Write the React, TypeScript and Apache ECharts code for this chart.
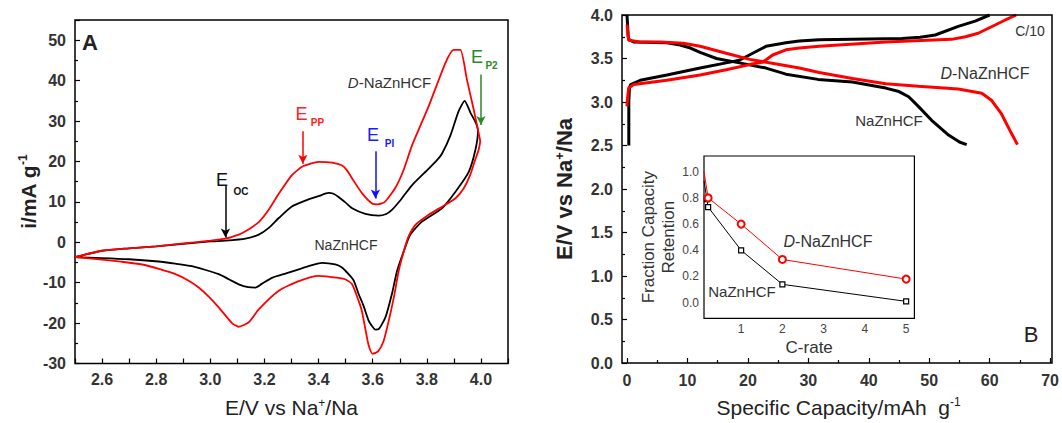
import React, { useEffect, useRef } from "react";
import * as echarts from "echarts";

const FONT = 'Arial, "Liberation Sans", Helvetica, sans-serif';

// ---- Panel A: cyclic voltammetry (E / V, i / mA g-1) ----
const cvDNaZnHCF: [number, number][] = [
  [2.5, -3.7], [2.6, -2.1], [2.7, -1.5], [2.8, -1.0], [2.9, -0.3], [3.0, 0.4], [3.056, 0.9],
  [3.105, 1.9], [3.13, 2.7], [3.179, 5.0], [3.215, 8.0], [3.253, 12.0], [3.3, 16.5], [3.342, 18.8],
  [3.4, 19.9], [3.45, 19.7], [3.487, 19.0], [3.505, 17.8], [3.524, 15.8], [3.561, 12.1], [3.598, 9.6],
  [3.62, 9.4], [3.645, 10.0], [3.684, 13.5], [3.715, 18.0], [3.745, 23.9], [3.807, 33.7], [3.869, 44.4],
  [3.899, 47.6], [3.924, 47.6], [3.948, 40.3], [3.973, 32.9], [3.991, 27.2], [3.997, 25.0],
  [3.99, 22.5], [3.98, 20.7], [3.96, 16.6], [3.936, 13.3], [3.906, 10.9], [3.856, 8.8], [3.807, 6.8],
  [3.758, 4.3], [3.733, 1.5], [3.715, -2.2], [3.696, -7.1], [3.678, -13.7], [3.659, -19.5], [3.64, -24.5],
  [3.62, -27.0], [3.6, -27.6], [3.585, -25.5], [3.573, -21.5], [3.56, -17.0], [3.548, -14.5], [3.524, -10.4],
  [3.5, -9.2], [3.474, -8.8], [3.4, -8.3], [3.327, -9.6], [3.253, -12.0], [3.179, -16.6], [3.142, -19.8],
  [3.105, -20.9], [3.08, -20.0], [3.031, -16.1], [2.995, -13.5], [2.957, -11.2], [2.92, -9.5], [2.871, -7.9],
  [2.81, -6.6], [2.748, -5.5], [2.67, -4.8], [2.6, -4.3], [2.5, -3.7],
];

const cvNaZnHCF: [number, number][] = [
  [2.5, -3.7], [2.6, -2.1], [2.7, -1.5], [2.8, -1.0], [2.9, -0.4], [3.0, 0.2], [3.056, 0.4], [3.13, 0.9],
  [3.179, 1.9], [3.215, 3.5], [3.253, 6.0], [3.3, 8.8], [3.351, 10.3], [3.4, 11.4], [3.437, 12.2],
  [3.455, 12.0], [3.474, 11.2], [3.5, 9.8], [3.524, 8.4], [3.573, 7.0], [3.622, 6.6], [3.65, 7.0],
  [3.671, 8.0], [3.7, 10.2], [3.745, 14.1], [3.807, 18.2], [3.84, 20.5], [3.856, 21.9], [3.887, 26.4],
  [3.918, 32.5], [3.94, 35.0], [3.961, 32.1], [3.98, 29.7], [3.989, 27.6],
  [3.98, 23.0], [3.955, 17.4], [3.906, 12.5], [3.856, 8.4], [3.782, 5.1], [3.739, 1.9], [3.715, -2.2],
  [3.69, -7.1], [3.671, -12.8], [3.647, -18.6], [3.622, -21.5], [3.61, -21.6], [3.595, -20.5],
  [3.585, -19.4], [3.565, -15.5], [3.548, -12.8], [3.53, -9.5], [3.511, -7.9], [3.485, -6.2],
  [3.462, -5.5], [3.413, -5.1], [3.37, -5.8], [3.327, -6.7], [3.28, -7.7], [3.228, -8.8], [3.19, -10.3],
  [3.167, -11.2], [3.14, -11.1], [3.105, -10.4], [3.07, -9.2], [3.031, -7.9], [2.98, -6.8], [2.932, -5.9],
  [2.87, -5.3], [2.797, -4.7], [2.7, -4.2], [2.6, -3.9], [2.5, -3.7],
];

// arrows: [x, yStart, yEnd]
const arrowEPP: [number, number, number] = [3.342, 27.5, 19.4];
const arrowEPI: [number, number, number] = [3.61, 22.5, 10.8];
const arrowEOC: [number, number, number] = [3.056, 14.0, 1.2];
const arrowEP2: [number, number, number] = [4.0, 41.5, 29.0];

// ---- Panel B: charge / discharge (capacity mAh g-1, E / V) ----
const naDischarge: [number, number][] = [
  [0, 4.0], [0.2, 3.75], [0.3, 3.72], [1.1, 3.69], [6.6, 3.68], [8.8, 3.655], [10.5, 3.62], [12.1, 3.57],
  [14.8, 3.5], [18.6, 3.45], [23.0, 3.39], [26.3, 3.32], [31.6, 3.26], [37.3, 3.23], [42.8, 3.16],
  [45.0, 3.12], [46.6, 3.06], [48.2, 2.95], [50.4, 2.79], [53.2, 2.62], [55.0, 2.54], [56.2, 2.51],
];
const naCharge: [number, number][] = [
  [0.3, 2.5], [0.3, 3.0], [0.4, 3.16], [0.6, 3.2], [2.2, 3.25], [6.6, 3.31], [12.1, 3.39], [16.4, 3.45],
  [18.6, 3.48], [20.8, 3.56], [23.0, 3.64], [26.3, 3.68], [28.5, 3.7], [31.8, 3.715], [45.5, 3.73],
  [48.5, 3.745], [51.0, 3.77], [54.8, 3.87], [57.6, 3.93], [60.0, 4.0],
];
const dCharge: [number, number][] = [
  [0.0, 2.95], [0.1, 3.05], [0.27, 3.16], [1.1, 3.2], [6.6, 3.25], [12.1, 3.31], [16.4, 3.37], [20.3, 3.43],
  [22.5, 3.46], [24.1, 3.54], [26.3, 3.6], [28.5, 3.62], [31.8, 3.64], [42.8, 3.69], [53.7, 3.72],
  [56.0, 3.75], [58.1, 3.79], [60.9, 3.885], [62.5, 3.94], [64.4, 4.0],
];
const dDischarge: [number, number][] = [
  [0, 3.89], [0.27, 3.71], [2.2, 3.69], [5.5, 3.69], [9.3, 3.675], [12.1, 3.64], [16.4, 3.56], [20.3, 3.49],
  [25.2, 3.43], [28.5, 3.39], [31.8, 3.34], [37.3, 3.27], [42.8, 3.21], [48.2, 3.18], [54.8, 3.15],
  [58.7, 3.1], [60.3, 3.02], [61.9, 2.87], [63.6, 2.64], [64.6, 2.51],
];

// ---- Inset: rate capability ----
const insetD: [number, number][] = [[0.1, 1.0], [0.2, 0.8], [1, 0.6], [2, 0.33], [5, 0.18]];
const insetNa: [number, number][] = [[0.1, 0.93], [0.17, 0.79], [0.2, 0.73], [1, 0.4], [2, 0.14], [5, 0.01]];

const tickLabel = { fontFamily: FONT, fontWeight: "bold" as const, fontSize: 16, color: "#333" };

function arrowItem(a: [number, number, number], color: string) {
  return [
    { coord: [a[0], a[1]], lineStyle: { color, width: 1.5, type: "solid" }, itemStyle: { color } },
    { coord: [a[0], a[2]] },
  ];
}

function txt(x: number, y: number, text: string, size: number, color = "#333", weight = "normal", rich?: any) {
  return {
    type: "text",
    x,
    y,
    silent: true,
    style: {
      text,
      fill: color,
      fontFamily: FONT,
      fontSize: size,
      fontWeight: weight,
      align: "center",
      verticalAlign: "middle",
      rich,
    },
  };
}

const italicRich = (size: number) => ({
  i: { fontStyle: "italic", fontFamily: FONT, fontSize: size, fill: "#333", color: "#333" },
  n: { fontFamily: FONT, fontSize: size, fill: "#333", color: "#333" },
});

const supRich = (size: number, bold: boolean) => ({
  sup: { fontFamily: FONT, fontSize: size, fontWeight: bold ? "bold" : "normal", color: "#222", padding: [0, 0, 10, 0] },
});

export default function App() {
  const ref = useRef<HTMLDivElement>(null);

  useEffect(() => {
    if (!ref.current) return;
    const chart = echarts.init(ref.current, undefined, { renderer: "svg" });

    const option: any = {
      animation: false,
      backgroundColor: "#fff",
      grid: [
        { left: 75, top: 20, width: 433, height: 346.7, show: true, borderColor: "#000", borderWidth: 1.5, backgroundColor: "transparent" },
        { left: 627, top: 15, width: 425, height: 348 },
        { left: 704, top: 156, width: 210.4, height: 162.4, show: true, borderColor: "#000", borderWidth: 1.2, backgroundColor: "#fff" },
      ],
      xAxis: [
        {
          gridIndex: 0, type: "value", min: 2.5, max: 4.1, interval: 0.1,
          axisLine: { show: false, onZero: false },
          axisTick: { inside: true, length: 5, lineStyle: { color: "#000", width: 1.2 } },
          splitLine: { show: false },
          axisLabel: {
            ...tickLabel, margin: 8,
            formatter: (v: number) => {
              const k = Math.round(v * 10);
              return k % 2 === 0 && k >= 26 && k <= 40 ? (k / 10).toFixed(1) : "";
            },
          },
          name: "E/V vs Na{sup|+}/Na", nameLocation: "middle", nameGap: 33,
          nameTextStyle: { fontFamily: FONT, fontSize: 21, color: "#222", rich: supRich(12, false) },
        },
        {
          gridIndex: 1, type: "value", min: 0, max: 70, interval: 10,
          axisLine: { show: false, onZero: false },
          axisTick: { inside: true, length: 5, lineStyle: { color: "#000", width: 1.2 } },
          minorTick: { show: true, splitNumber: 2, length: 3, lineStyle: { color: "#000", width: 1.2 } },
          splitLine: { show: false },
          axisLabel: { ...tickLabel, margin: 9 },
          name: "Specific Capacity/mAh  g{sup|-1}", nameLocation: "middle", nameGap: 33,
          nameTextStyle: { fontFamily: FONT, fontSize: 21, color: "#222", rich: supRich(12, false) },
        },
        {
          gridIndex: 2, type: "value", min: 0.1, max: 5.2, interval: 0.1,
          axisLine: { show: false, onZero: false },
          axisTick: { show: false },
          splitLine: { show: false },
          axisLabel: {
            fontFamily: FONT, fontSize: 12, color: "#444", margin: 5,
            formatter: (v: number) => {
              const r = Math.round(v);
              return Math.abs(v - r) < 1e-6 && r >= 1 ? String(r) : "";
            },
          },
          name: "C-rate", nameLocation: "middle", nameGap: 21,
          nameTextStyle: { fontFamily: FONT, fontSize: 17, color: "#333" },
        },
      ],
      yAxis: [
        {
          gridIndex: 0, type: "value", min: -30, max: 55, interval: 10,
          axisLine: { show: false, onZero: false },
          axisTick: { inside: true, length: 5, lineStyle: { color: "#000", width: 1.2 } },
          minorTick: { show: true, splitNumber: 2, length: 3, lineStyle: { color: "#000", width: 1.2 } },
          splitLine: { show: false },
          axisLabel: { ...tickLabel, margin: 9, formatter: (v: number) => (Math.round(v) % 10 === 0 ? String(Math.round(v)) : "") },
          name: "i/mA g{sup|-1}", nameLocation: "middle", nameGap: 36,
          nameTextStyle: { fontFamily: FONT, fontSize: 21, fontWeight: "bold", color: "#222", rich: supRich(12, true) },
        },
        {
          gridIndex: 1, type: "value", min: 0, max: 4, interval: 0.5, offset: 5,
          axisLine: { show: false, onZero: false },
          axisTick: { inside: true, length: 5, lineStyle: { color: "#000", width: 1.2 } },
          minorTick: { show: true, splitNumber: 2, length: 3, lineStyle: { color: "#000", width: 1.2 } },
          splitLine: { show: false },
          axisLabel: { ...tickLabel, margin: 9, formatter: (v: number) => v.toFixed(1) },
          name: "E/V vs Na{sup|+}/Na", nameLocation: "middle", nameGap: 46,
          nameTextStyle: { fontFamily: FONT, fontSize: 22, fontWeight: "bold", color: "#222", rich: supRich(13, true) },
        },
        {
          gridIndex: 2, type: "value", min: -0.12, max: 1.12, interval: 0.04,
          axisLine: { show: false, onZero: false },
          axisTick: { show: false },
          splitLine: { show: false },
          axisLabel: {
            fontFamily: FONT, fontSize: 12, color: "#444", margin: 5,
            formatter: (v: number) => {
              const k = Math.round(v * 5);
              return Math.abs(v * 5 - k) < 1e-6 && k >= 0 && k <= 5 ? (k / 5).toFixed(1) : "";
            },
          },
          name: "Fraction Capacity\nRetention", nameLocation: "middle", nameGap: 24,
          nameTextStyle: { fontFamily: FONT, fontSize: 17, color: "#333", lineHeight: 20 },
        },
      ],
      series: [
        {
          type: "line", name: "NaZnHCF CV", xAxisIndex: 0, yAxisIndex: 0, data: cvNaZnHCF,
          showSymbol: false, smooth: 0.2, lineStyle: { color: "#000", width: 1.8 }, itemStyle: { color: "#000" },
        },
        {
          type: "line", name: "D-NaZnHCF CV", xAxisIndex: 0, yAxisIndex: 0, data: cvDNaZnHCF,
          showSymbol: false, smooth: 0.2, lineStyle: { color: "#ff0000", width: 1.8 }, itemStyle: { color: "#ff0000" },
          markLine: {
            silent: true, symbol: ["none", "arrow"], symbolSize: [7, 9],
            label: { show: false },
            data: [
              arrowItem(arrowEPP, "#ff0000"),
              arrowItem(arrowEPI, "#1010ff"),
              arrowItem(arrowEOC, "#000000"),
              arrowItem(arrowEP2, "#2a8a2a"),
            ],
          },
        },
        {
          type: "line", name: "NaZnHCF charge", xAxisIndex: 1, yAxisIndex: 1, data: naCharge,
          showSymbol: false, lineStyle: { color: "#000", width: 3 }, itemStyle: { color: "#000" },
        },
        {
          type: "line", name: "NaZnHCF discharge", xAxisIndex: 1, yAxisIndex: 1, data: naDischarge,
          showSymbol: false, lineStyle: { color: "#000", width: 3 }, itemStyle: { color: "#000" },
        },
        {
          type: "line", name: "D-NaZnHCF charge", xAxisIndex: 1, yAxisIndex: 1, data: dCharge,
          showSymbol: false, lineStyle: { color: "#ff0000", width: 3 }, itemStyle: { color: "#ff0000" },
        },
        {
          type: "line", name: "D-NaZnHCF discharge", xAxisIndex: 1, yAxisIndex: 1, data: dDischarge,
          showSymbol: false, lineStyle: { color: "#ff0000", width: 3 }, itemStyle: { color: "#ff0000" },
        },
        {
          type: "line", name: "NaZnHCF rate", xAxisIndex: 2, yAxisIndex: 2,
          data: insetNa.map((p, i) => (i === 0 ? { value: p, symbol: "none" } : { value: p })),
          symbol: "rect", symbolSize: 5, showAllSymbol: true,
          lineStyle: { color: "#000", width: 1 }, itemStyle: { color: "#fff", borderColor: "#000", borderWidth: 1.2 },
        },
        {
          type: "line", name: "D-NaZnHCF rate", xAxisIndex: 2, yAxisIndex: 2,
          data: insetD.map((p, i) => (i === 0 ? { value: p, symbol: "none" } : { value: p })),
          symbol: "emptyCircle", symbolSize: 7, showAllSymbol: true,
          lineStyle: { color: "#ff0000", width: 1 }, itemStyle: { color: "#ff0000", borderColor: "#ff0000", borderWidth: 1.2 },
        },
      ],
      graphic: [
        { type: "rect", silent: true, shape: { x: 622, y: 15, width: 430, height: 348 }, style: { fill: "none", stroke: "#000", lineWidth: 1.5 }, z: 10 },
        txt(90, 42, "A", 22, "#222", "bold"),
        txt(222, 180, "E", 18, "#111"),
        txt(241, 191, "OC", 10, "#111", "bold"),
        txt(301.5, 113.5, "E", 18, "#ff2020"),
        txt(317.5, 122.5, "PP", 10, "#ff2020", "bold"),
        txt(373, 135, "E", 18, "#1a1aff"),
        txt(389.5, 143, "PI", 10, "#1a1aff", "bold"),
        txt(477, 56.5, "E", 18, "#2a8a2a"),
        txt(491.5, 65, "P2", 10, "#2a8a2a", "bold"),
        txt(389.5, 82, "{i|D}{n|-NaZnHCF}", 15, "#333", "normal", italicRich(15)),
        txt(346, 245, "NaZnHCF", 14),
        txt(1030, 31, "C/10", 14),
        txt(985, 73, "{i|D}{n|-NaZnHCF}", 16, "#333", "normal", italicRich(16)),
        txt(889, 120, "NaZnHCF", 15),
        txt(828, 241, "{i|D}{n|-NaZnHCF}", 16, "#333", "normal", italicRich(16)),
        txt(742, 291, "NaZnHCF", 15),
        txt(1031, 334, "B", 22, "#222"),
      ],
    };

    chart.setOption(option);
    return () => chart.dispose();
  }, []);

  return <div ref={ref} style={{ position: "fixed", left: 0, top: 0, width: 1062, height: 423 }} />;
}
